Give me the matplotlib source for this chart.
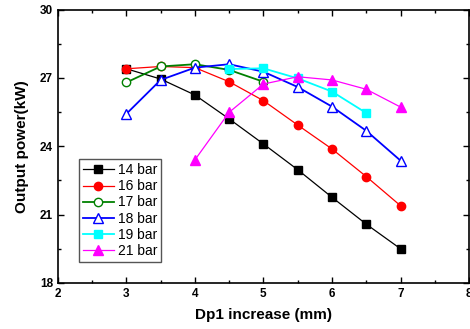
import matplotlib
matplotlib.use("Agg")
import matplotlib.pyplot as plt
from matplotlib.ticker import MultipleLocator

plt.rcParams['font.family'] = ['Liberation Sans', 'DejaVu Sans']

# Dp1 increase (mm) and output power (kW) per supply pressure
x_14 = [3, 3.5, 4, 4.5, 5, 5.5, 6, 6.5, 7]
p_14 = [27.4, 26.95, 26.25, 25.2, 24.1, 22.97, 21.76, 20.58, 19.5]
x_16 = [3, 3.5, 4, 4.5, 5, 5.5, 6, 6.5, 7]
p_16 = [27.4, 27.5, 27.45, 26.83, 26.0, 24.93, 23.88, 22.67, 21.39]
x_17 = [3, 3.5, 4, 4.5, 5]
p_17 = [26.8, 27.5, 27.6, 27.35, 26.83]
x_18 = [3, 3.5, 4, 4.5, 5, 5.5, 6, 6.5, 7]
p_18 = [25.42, 26.91, 27.45, 27.6, 27.27, 26.6, 25.74, 24.68, 23.37]
x_19 = [4.5, 5, 5.5, 6, 6.5]
p_19 = [27.39, 27.42, 26.98, 26.4, 25.46]
x_21 = [4, 4.5, 5, 5.5, 6, 6.5, 7]
p_21 = [23.4, 25.49, 26.73, 27.05, 26.91, 26.5, 25.72]

fig = plt.figure(figsize=(4.7, 3.29), dpi=100)
ax = fig.add_axes([0.123, 0.14, 0.875, 0.831])

ax.plot(x_14, p_14, color='black', lw=0.9, marker='s', ms=5.5, label='14 bar')
ax.plot(x_16, p_16, color='red', lw=0.9, marker='o', ms=6, label='16 bar')
ax.plot(x_17, p_17, color='green', lw=1.3, marker='o', ms=6, mfc='white', label='17 bar')
ax.plot(x_18, p_18, color='blue', lw=1.3, marker='^', ms=6.5, mfc='white', label='18 bar')
ax.plot(x_19, p_19, color='cyan', lw=1.3, marker='s', ms=5.5, label='19 bar')
ax.plot(x_21, p_21, color='magenta', lw=0.9, marker='^', ms=6.5, label='21 bar')

ax.set_xlim(2, 8)
ax.set_ylim(18, 30)
ax.xaxis.set_major_locator(MultipleLocator(1))
ax.xaxis.set_minor_locator(MultipleLocator(0.5))
ax.yaxis.set_major_locator(MultipleLocator(3))
ax.yaxis.set_minor_locator(MultipleLocator(1.5))
ax.tick_params(which='both', direction='in', top=True, right=True, width=1)
ax.tick_params(which='major', length=4, labelsize=8.5)
ax.tick_params(which='minor', length=2)
for lbl in ax.get_xticklabels() + ax.get_yticklabels():
    lbl.set_fontweight('bold')
for sp in ax.spines.values():
    sp.set_linewidth(1.2)

ax.set_xlabel('Dp1 increase (mm)', fontsize=11, fontweight='bold', labelpad=6)
ax.set_ylabel('Output power(kW)', fontsize=11, fontweight='bold', labelpad=8)

leg = ax.legend(loc='lower left', bbox_to_anchor=(0.051, 0.077), borderaxespad=0,
                fontsize=10, handlelength=2.2, handletextpad=0.3, labelspacing=0.15,
                borderpad=0.3, fancybox=False, framealpha=1, edgecolor='#555555')
leg.get_frame().set_linewidth(1)

fig.savefig('out.png', dpi=100)
